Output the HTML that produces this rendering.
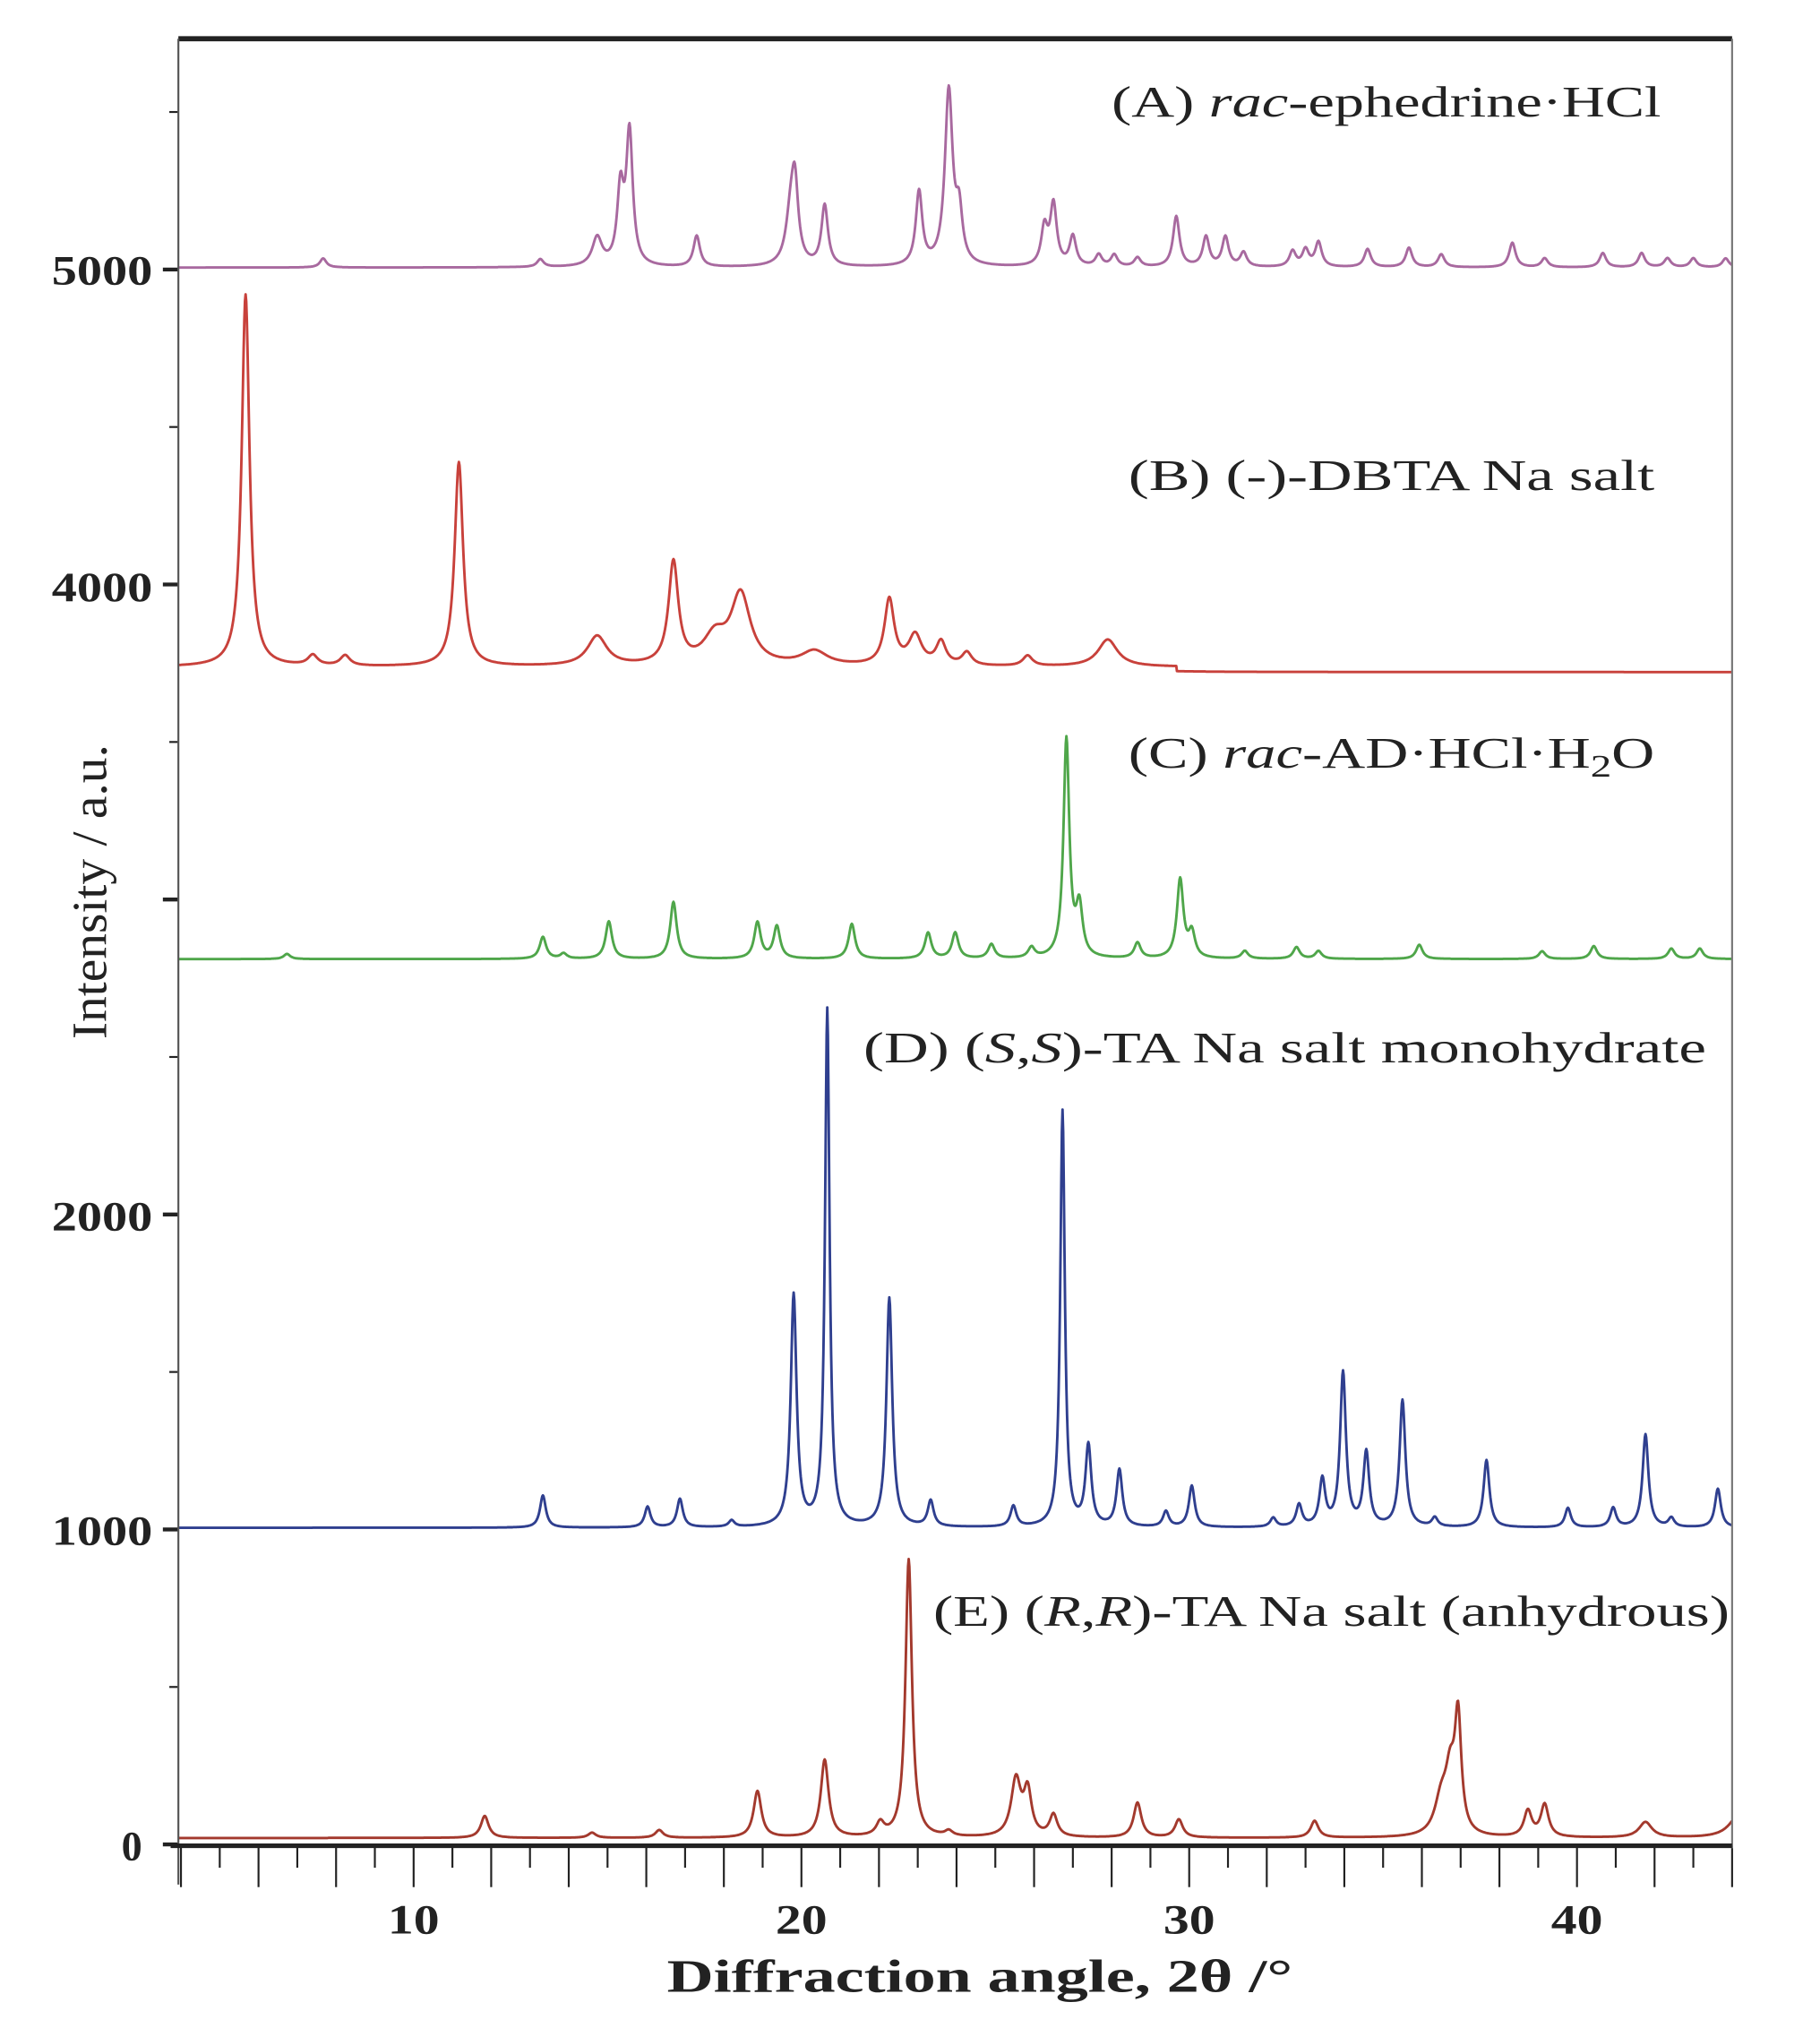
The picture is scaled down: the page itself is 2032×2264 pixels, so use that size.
<!DOCTYPE html>
<html><head><meta charset="utf-8"><style>html,body{margin:0;padding:0;background:#fff}svg{display:block}</style></head>
<body>
<svg id="s" width="2032" height="2264" viewBox="0 0 1408 1569" preserveAspectRatio="none" xmlns="http://www.w3.org/2000/svg">
<rect width="1408" height="1569" fill="#fff"/>
<g id="series" fill="none" stroke-width="2" stroke-linejoin="round"></g>
<g id="ticks" stroke="#222"></g>
<line x1="138" y1="30" x2="1340" y2="30" stroke="#222" stroke-width="4"/>
<line x1="1340" y1="30" x2="1340" y2="1430" stroke="#777" stroke-width="1.5"/>
<line x1="138" y1="30" x2="138" y2="1458" stroke="#555" stroke-width="1.5"/>
<line x1="132" y1="1428" x2="1340" y2="1428" stroke="#222" stroke-width="3.5"/>
<g font-family="Liberation Serif, serif" font-weight="bold" font-size="32" fill="#222">
<text x="118" y="220" text-anchor="end" textLength="78" lengthAdjust="spacingAndGlyphs">5000</text>
<text x="118" y="465" text-anchor="end" textLength="78" lengthAdjust="spacingAndGlyphs">4000</text>
<text x="118" y="952" text-anchor="end" textLength="78" lengthAdjust="spacingAndGlyphs">2000</text>
<text x="118" y="1195" text-anchor="end" textLength="78" lengthAdjust="spacingAndGlyphs">1000</text>
<text x="110" y="1439" text-anchor="end">0</text>
<text x="320" y="1496" text-anchor="middle" textLength="40" lengthAdjust="spacingAndGlyphs">10</text>
<text x="620" y="1496" text-anchor="middle" textLength="40" lengthAdjust="spacingAndGlyphs">20</text>
<text x="920" y="1496" text-anchor="middle" textLength="40" lengthAdjust="spacingAndGlyphs">30</text>
<text x="1220" y="1496" text-anchor="middle" textLength="40" lengthAdjust="spacingAndGlyphs">40</text>
<text x="758" y="1541" text-anchor="middle" font-size="36" textLength="484" lengthAdjust="spacingAndGlyphs">Diffraction angle, 2θ /°</text>
</g>
<text transform="translate(82,690) rotate(-90)" font-family="Liberation Serif, serif" font-size="38" fill="#222" text-anchor="middle" textLength="228" lengthAdjust="spacingAndGlyphs">Intensity / a.u.</text>
<g font-family="Liberation Serif, serif" font-size="34" fill="#222">
<text x="860" y="90" textLength="425" lengthAdjust="spacingAndGlyphs">(A) <tspan font-style="italic">rac</tspan>-ephedrine·HCl</text>
<text x="873" y="379" textLength="407" lengthAdjust="spacingAndGlyphs">(B) (-)-DBTA Na salt</text>
<text x="873" y="594" textLength="407" lengthAdjust="spacingAndGlyphs">(C) <tspan font-style="italic">rac</tspan>-AD·HCl·H<tspan font-size="24" dy="7">2</tspan><tspan dy="-7">O</tspan></text>
<text x="668" y="822" textLength="652" lengthAdjust="spacingAndGlyphs">(D) (<tspan font-style="italic">S</tspan>,<tspan font-style="italic">S</tspan>)-TA Na salt monohydrate</text>
<text x="722" y="1258" textLength="616" lengthAdjust="spacingAndGlyphs">(E) (<tspan font-style="italic">R</tspan>,<tspan font-style="italic">R</tspan>)-TA Na salt (anhydrous)</text>
</g>
</svg>
<script>
(function(){
var NS="http://www.w3.org/2000/svg";
var tg=document.getElementById('ticks');
function ln(x1,y1,x2,y2,w){var l=document.createElementNS(NS,'line');l.setAttribute('x1',x1);l.setAttribute('y1',y1);l.setAttribute('x2',x2);l.setAttribute('y2',y2);l.setAttribute('stroke-width',w);tg.appendChild(l);}
for(var d=4;d<=44;d++){var x=20+30*d;ln(x,1428,x,(d%2==0)?1460:1445,1.5);}
for(var v=0;v<=5500;v+=500){var y=1427-v*0.2437;ln(v%1000==0?126:131,y,138,y,v%1000==0?3:1.5);}
var sg=document.getElementById('series');
var S=[
{c:"#a8699f",b:207,w:0.1,p:[[250,200],[418,201],[462,185,.15],[480,150],[487,105],[539,183],[612,165,.15],[615,157],[638,160],[711,150],[734,72,.12],[742,170],[808,178],[815,160],[830,184],[850,198],[862,198],[880,200],[910,168],[933,184],[948,184],[962,196],[1000,195],[1010,194],[1020,188],[1058,193],[1090,192],[1115,197],[1170,188],[1195,200],[1240,196],[1270,196],[1290,200],[1310,200],[1335,200]]},
{c:"#c8413b",b:516,w:0.15,p:[[190,228,.12],[242,508],[267,508],[355,358,.13],[462,493,.3],[521,437,.15],[553,495,.35],[573,462,.3],[630,505,.4],[688,465,.15],[708,493,.2],[728,498],[748,506],[795,508],[857,495,.3]],shift:[910,4]},
{c:"#4fa64a",b:742,w:0.1,p:[[222,738],[420,725],[436,738],[471,713],[521,698],[586,714],[601,717],[659,715],[718,722],[739,722],[767,731],[798,734],[825,573,.09],[835,704],[880,730],[913,681],[922,723],[963,736],[1003,733],[1020,736],[1098,731],[1193,736],[1233,732],[1293,734],[1315,734]]},
{c:"#2f3f8f",b:1182,w:0.09,p:[[420,1157],[501,1166],[526,1160],[566,1177],[614,1003],[640,782,.07],[688,1005],[720,1162],[784,1166],[822,860,.07],[842,1120],[866,1138],[902,1170],[922,1150],[985,1175],[1005,1165],[1023,1146],[1039,1063],[1057,1125],[1085,1084],[1110,1175],[1150,1130],[1213,1167],[1248,1167],[1273,1110],[1293,1175],[1329,1152]]},
{c:"#a3392d",b:1422,w:0.12,p:[[375,1405],[458,1418],[510,1416],[586,1386],[638,1362],[681,1412],[703,1207,.1],[734,1418],[786,1378,.15],[795,1388],[815,1405],[880,1395],[912,1408],[1017,1409],[1115,1395,.2],[1122,1380,.15],[1128,1336,.1],[1182,1402],[1195,1397],[1273,1410,.2],[1345,1405,.3]]}
];
S.forEach(function(s){
 var d="";
 for(var x=138;x<=1340;x+=0.5){
  var deg=(x-20)/30,base=s.b;
  if(s.shift&&x>s.shift[0])base+=s.shift[1];
  var y=base;
  s.p.forEach(function(p){var g=(p[2]||s.w),pd=(p[0]-20)/30,h=s.b-p[1];var t=(deg-pd)/g;y-=h/(1+t*t);});
  d+=(d?"L":"M")+x.toFixed(1)+" "+y.toFixed(1);
 }
 var pa=document.createElementNS(NS,'path');pa.setAttribute('d',d);pa.setAttribute('stroke',s.c);sg.appendChild(pa);
});
})();
</script>
</body></html>
